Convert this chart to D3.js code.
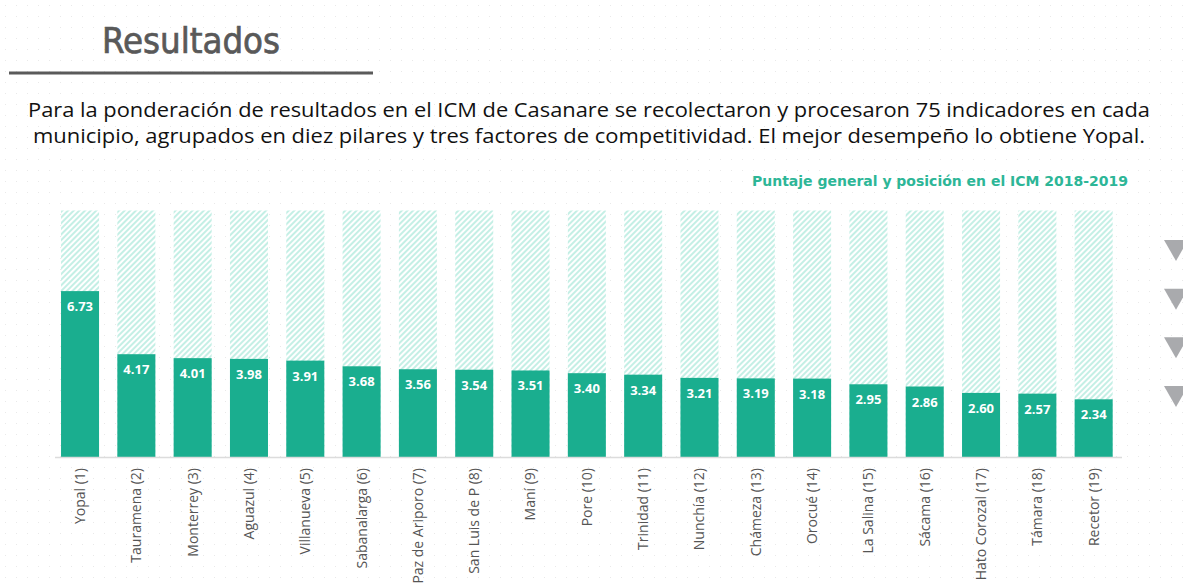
<!DOCTYPE html>
<html><head><meta charset="utf-8">
<script src="https://cdn.jsdelivr.net/npm/d3@7/dist/d3.min.js"></script>
<style>html,body{margin:0;padding:0;background:#fff;}svg{display:block;}</style>
</head><body>
<svg id="c" width="1183" height="588"></svg>
<script>
const municipios = ["Yopal","Tauramena","Monterrey","Aguazul","Villanueva","Sabanalarga","Paz de Ariporo","San Luis de P","Maní","Pore","Trinidad","Nunchía","Chámeza","Orocué","La Salina","Sácama","Hato Corozal","Támara","Recetor"];
const posiciones = [1,2,3,4,5,6,7,8,9,10,11,12,13,14,15,16,17,18,19];
const puntajes = [6.73,4.17,4.01,3.98,3.91,3.68,3.56,3.54,3.51,3.40,3.34,3.21,3.19,3.18,2.95,2.86,2.60,2.57,2.34];
const puntajeMax = [10,10,10,10,10,10,10,10,10,10,10,10,10,10,10,10,10,10,10];
const titulo = "Resultados";
const parrafo = ["Para la ponderación de resultados en el ICM de Casanare se recolectaron y procesaron 75 indicadores en cada",
                 "municipio, agrupados en diez pilares y tres factores de competitividad. El mejor desempeño lo obtiene Yopal."];
const subtitulo = "Puntaje general y posición en el ICM 2018-2019";
const flechas = [1,2,3,4];

const labels = municipios.map((m,i)=>`${m} (${posiciones[i]})`);
const svg = d3.select("#c");
const defs = svg.append("defs");
const dot = defs.append("pattern").attr("id","dots").attr("patternUnits","userSpaceOnUse").attr("width",11).attr("height",11);
dot.append("rect").attr("x",5).attr("y",5).attr("width",1).attr("height",1).attr("fill","#e9e9e9");
const hatch = defs.append("pattern").attr("id","hatch").attr("patternUnits","userSpaceOnUse").attr("width",4).attr("height",4).attr("patternTransform","rotate(45)");
hatch.append("rect").attr("width",4).attr("height",4).attr("fill","#ffffff");
hatch.append("rect").attr("width",2).attr("height",4).attr("fill","#c4efe5");

svg.append("rect").attr("width",1183).attr("height",588).attr("fill","url(#dots)");

// title
svg.append("text").attr("x",102).attr("y",53).text(titulo)
  .attr("font-family","DejaVu Sans Condensed").attr("font-size",36).attr("fill","#595959")
  .attr("stroke","#595959").attr("stroke-width",0.7)
  .attr("textLength",178).attr("lengthAdjust","spacingAndGlyphs");
svg.append("line").attr("x1",9).attr("x2",373).attr("y1",73).attr("y2",73).attr("stroke","#5a5a5a").attr("stroke-width",3);

const parLen = [1122, 1112];
svg.selectAll("text.par").data(parrafo).join("text").attr("class","par")
  .attr("x",589).attr("y",(d,i)=>117+i*26).attr("text-anchor","middle")
  .attr("font-family","Open Sans").attr("font-size",19.5).attr("fill","#111")
  .attr("textLength",(d,i)=>parLen[i]).attr("lengthAdjust","spacingAndGlyphs").text(d=>d);

svg.append("text").attr("x",1128).attr("y",186).attr("text-anchor","end").text(subtitulo)
  .attr("font-family","DejaVu Sans Condensed").attr("font-weight","bold").attr("font-size",14.5).attr("fill","#2db697")
  .attr("textLength",376).attr("lengthAdjust","spacingAndGlyphs");

const x = d3.scaleBand().domain(labels).range([55.4,1118.3]).paddingInner(0.325).paddingOuter(0.1);
const y = d3.scaleLinear().domain([0,10]).range([457,210.5]);

const g = svg.append("g");
g.selectAll("rect.bg").data(labels).join("rect").attr("class","bg")
  .attr("x",d=>x(d)).attr("width",x.bandwidth())
  .attr("y",(d,i)=>y(puntajeMax[i])).attr("height",(d,i)=>y(0)-y(puntajeMax[i])).attr("fill","url(#hatch)");
g.selectAll("rect.bar").data(labels).join("rect").attr("class","bar")
  .attr("x",d=>x(d)).attr("width",x.bandwidth())
  .attr("y",(d,i)=>y(puntajes[i])).attr("height",(d,i)=>y(0)-y(puntajes[i])).attr("fill","#1aae8f");
g.selectAll("text.val").data(labels).join("text").attr("class","val")
  .attr("x",d=>x(d)+x.bandwidth()/2).attr("y",(d,i)=>y(puntajes[i])+20)
  .attr("text-anchor","middle").attr("font-family","Open Sans").attr("font-weight","bold")
  .attr("font-size",13).attr("fill","#fff").text((d,i)=>puntajes[i].toFixed(2));

svg.append("line").attr("x1",55).attr("x2",1122).attr("y1",457.5).attr("y2",457.5).attr("stroke","#dcdcdc").attr("stroke-width",1.5);

const xa = svg.append("g").attr("transform","translate(0,457)").call(d3.axisBottom(x).tickSize(0).tickPadding(0));
xa.select(".domain").remove();
xa.selectAll("text").attr("font-family","Open Sans").attr("font-size",14).attr("fill","#555")
  .attr("text-anchor","end").attr("transform","rotate(-90)").attr("x",-11).attr("y",0).attr("dy","0.35em");

// side triangles
const ty = d3.scalePoint().domain(flechas).range([240,386]);
svg.selectAll("path.tri").data(flechas).join("path").attr("class","tri")
  .attr("d",d=>`M1164,${ty(d)} L1188,${ty(d)} L1176,${ty(d)+21} Z`).attr("fill","#a9aaad");
</script>
</body></html>
